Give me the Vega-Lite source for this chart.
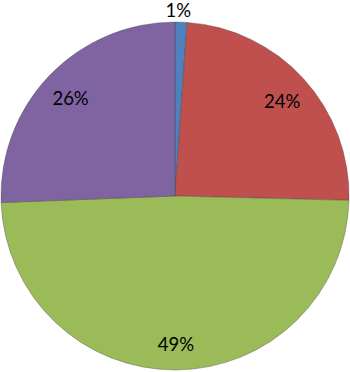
{
  "$schema": "https://vega.github.io/schema/vega-lite/v6.json",
  "width": 350,
  "height": 352,
  "padding": {"top": 20, "left": 0, "right": 0, "bottom": 0},
  "autosize": {"type": "none"},
  "background": "white",
  "view": {"stroke": null},
  "data": {"values": [
    {"cat": "A", "value": 1.1, "label": "1%", "idx": 1},
    {"cat": "B", "value": 24.3, "label": "24%", "idx": 2},
    {"cat": "C", "value": 49.0, "label": "49%", "idx": 3},
    {"cat": "D", "value": 25.6, "label": "26%", "idx": 4}
  ]},
  "encoding": {
    "theta": {"field": "value", "type": "quantitative", "stack": true},
    "order": {"field": "idx", "type": "quantitative"},
    "color": {"field": "cat", "type": "nominal", "legend": null,
      "scale": {"domain": ["A", "B", "C", "D"], "range": ["#4F81BD", "#C0504D", "#9BBB59", "#8064A2"]}}
  },
  "layer": [
    {"mark": {"type": "arc", "outerRadius": 174, "stroke": "#3a3a3a", "strokeWidth": 0.6, "strokeOpacity": 0.6}},
    {"mark": {"type": "text", "radius": 145, "dy": 4, "font": "Lato", "fontSize": 18.5, "fill": "#000", "baseline": "middle"},
     "encoding": {"text": {"condition": {"test": "datum.value < 5", "value": ""}, "field": "label"}, "color": {"value": "#000"}}},
    {"mark": {"type": "text", "radius": 185, "dx": -3, "font": "Lato", "fontSize": 18.5, "fill": "#000", "baseline": "middle"},
     "encoding": {"text": {"condition": {"test": "datum.value >= 5", "value": ""}, "field": "label"}, "color": {"value": "#000"}}}
  ]
}
